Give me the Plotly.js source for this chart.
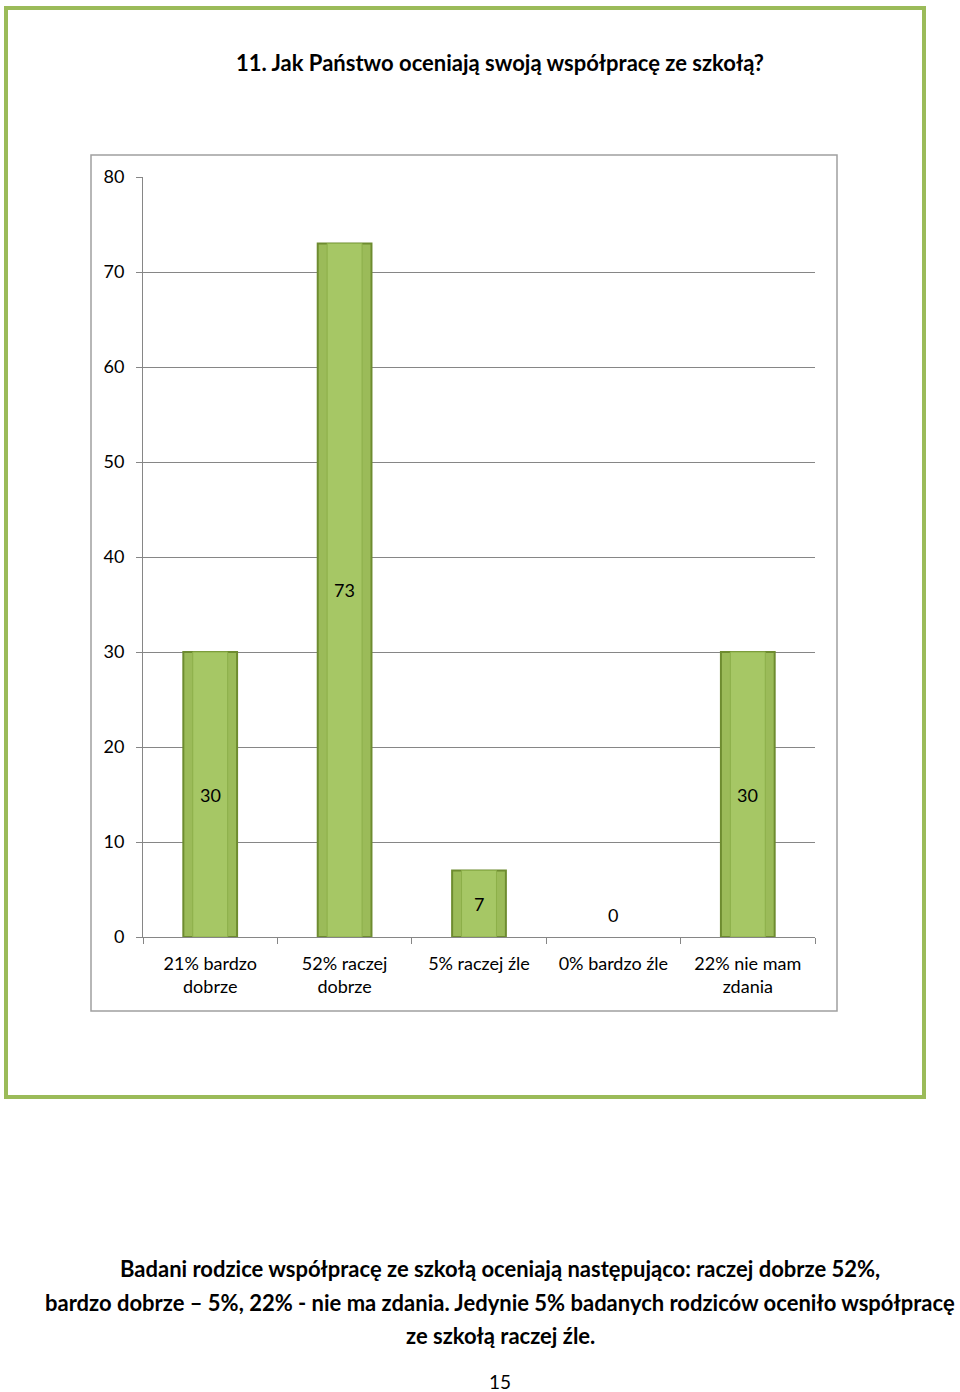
<!DOCTYPE html>
<html>
<head>
<meta charset="utf-8">
<script src="https://cdn.plot.ly/plotly-3.0.1.min.js"></script>
<style>html,body{margin:0;padding:0;background:#fff;}#chart{width:960px;height:1392px;}</style>
</head>
<body>
<div id="chart"></div>
<script>
const categories = ["21% bardzo<br>dobrze", "52% raczej<br>dobrze", "5% raczej źle", "0% bardzo źle", "22% nie mam<br>zdania"];
const values = [30, 73, 7, 0, 30];
const yTicks = [0, 10, 20, 30, 40, 50, 60, 70, 80];
const chartTitle = "11. Jak Państwo oceniają swoją współpracę ze szkołą?";
const paragraphLines = [
  "Badani rodzice współpracę ze szkołą oceniają następująco: raczej dobrze 52%,",
  "bardzo dobrze – 5%, 22% - nie ma zdania. Jedynie 5% badanych rodziców oceniło współpracę",
  "ze szkołą raczej źle."
];
const pageNumber = "15";

const FONT = "Lato, 'Open Sans', sans-serif";

// plot area in pixels
const L = 143, R = 815, T = 177, B = 937, W = 960, H = 1392;
const px = x => (x - L) / (R - L);
const py = y => (B - y) / (B - T);

const traces = [
  {
    type: "bar", x: categories, y: values, width: 0.4,
    marker: {color: "#9bbb59", line: {color: "#6e8c30", width: values.map(v => v ? 2 : 0)}},
    hoverinfo: "skip", showlegend: false
  },
  {
    type: "bar", x: categories, y: values, width: 0.26,
    marker: {color: "#a6c765", line: {color: "#8caf4a", width: values.map(v => v ? 1 : 0)}},
    hoverinfo: "skip", showlegend: false
  }
];

const annotations = [];
categories.forEach((c, i) => {
  const v = values[i];
  annotations.push({
    x: c, y: v === 0 ? 0 : v / 2, xref: "x", yref: "y",
    text: String(v), showarrow: false,
    yanchor: v === 0 ? "bottom" : "middle", yshift: v === 0 ? 9 : 0,
    font: {family: FONT, size: 18, color: "#000"}
  });
});
const lineY = [1268, 1302, 1335];
paragraphLines.forEach((t, i) => {
  annotations.push({
    x: px(500), y: py(lineY[i]), xref: "paper", yref: "paper",
    text: "<b>" + t + "</b>", showarrow: false, xanchor: "center", yanchor: "middle",
    font: {family: FONT, size: 22, color: "#000"}
  });
});
annotations.push({
  x: px(500), y: py(1381), xref: "paper", yref: "paper",
  text: pageNumber, showarrow: false, xanchor: "center", yanchor: "middle",
  font: {family: FONT, size: 19, color: "#000"}
});

const shapes = [
  {type: "rect", xref: "paper", yref: "paper", x0: px(6), x1: px(924), y0: py(1097), y1: py(8),
   line: {color: "#9bbb59", width: 4}, layer: "below"},
  {type: "rect", xref: "paper", yref: "paper", x0: px(91), x1: px(837), y0: py(1011), y1: py(155),
   line: {color: "#a0a0a0", width: 1.5}, layer: "below"}
];

const layout = {
  width: W, height: H,
  margin: {l: L, r: W - R, t: T, b: H - B},
  paper_bgcolor: "#fff", plot_bgcolor: "#fff",
  barmode: "overlay",
  title: {
    text: "<b>" + chartTitle + "</b>",
    x: px(500), xref: "paper", xanchor: "center",
    y: 1 - 63 / H, yref: "container", yanchor: "middle",
    font: {family: FONT, size: 22, color: "#000"}
  },
  xaxis: {
    type: "category", tickson: "boundaries", ticks: "outside", ticklen: 6, tickcolor: "#868686",
    showline: true, linecolor: "#868686", linewidth: 1, showgrid: false, zeroline: false,
    tickfont: {family: FONT, size: 18, color: "#000"}, ticklabelstandoff: 10, fixedrange: true
  },
  yaxis: {
    range: [0, 80], tickvals: yTicks, ticks: "outside", ticklen: 6, tickcolor: "#868686",
    showline: true, linecolor: "#868686", linewidth: 1,
    showgrid: true, gridcolor: "#868686", gridwidth: 1, zeroline: false,
    tickfont: {family: FONT, size: 18, color: "#000"}, ticklabelstandoff: 8, fixedrange: true
  },
  annotations: annotations,
  shapes: shapes
};

Plotly.newPlot("chart", traces, layout, {displayModeBar: false, staticPlot: true});
</script>
</body>
</html>
